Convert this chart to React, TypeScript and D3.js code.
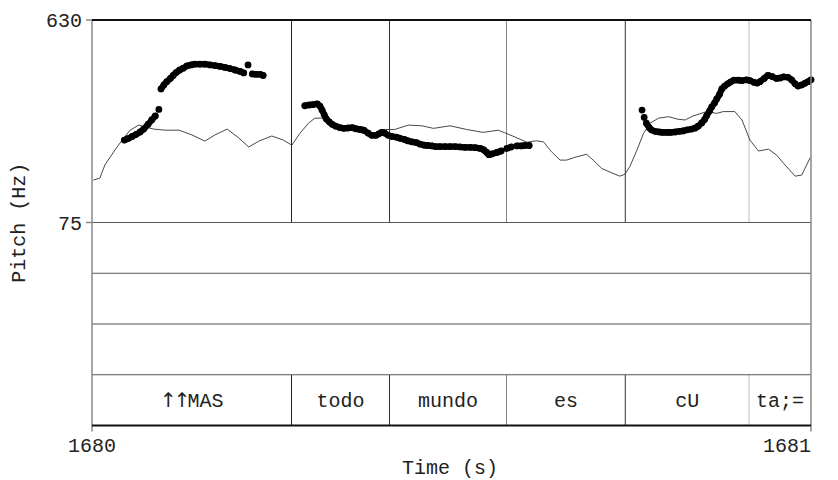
import React from "react";
import * as d3 from "d3";

// Time window (s) and pitch range (Hz)
const T_START = 1680;
const T_END = 1681;
const HZ_MIN = 75;
const HZ_MAX = 630;

// Thin reference contour: time offset from T_START (s), frequency (Hz)
const contourT = [
  0.002, 0.011, 0.018, 0.032, 0.042, 0.053, 0.065, 0.074, 0.086, 0.102, 0.121, 0.139, 0.157, 0.171,
  0.188, 0.204, 0.218, 0.232, 0.25, 0.266, 0.278, 0.289, 0.301, 0.31, 0.319, 0.327, 0.348, 0.359,
  0.377, 0.394, 0.403, 0.421, 0.44, 0.459, 0.475, 0.498, 0.521, 0.544, 0.565, 0.574, 0.591, 0.605,
  0.618, 0.628, 0.639, 0.651, 0.66, 0.674, 0.688, 0.697, 0.709, 0.723, 0.734, 0.741, 0.748, 0.758,
  0.767, 0.776, 0.788, 0.802, 0.815, 0.825, 0.836, 0.855, 0.869, 0.878, 0.894, 0.904, 0.915, 0.927,
  0.941, 0.952, 0.966, 0.978, 0.987, 0.999,
];
const contourHz = [
  191, 197, 233, 274, 301, 328, 342, 337, 331, 328, 328, 315, 298, 315,
  331, 307, 282, 298, 312, 301, 287, 319, 347, 361, 361, 351, 328, 328,
  320, 315, 330, 330, 342, 340, 333, 340, 330, 322, 328, 321, 307, 295,
  299, 296, 269, 246, 246, 255, 262, 246, 223, 211, 202, 207, 228, 274,
  319, 347, 361, 365, 358, 356, 367, 379, 374, 379, 379, 356, 301, 271,
  276, 260, 228, 202, 205, 253,
];

// Pitch track (speckle): time offset from T_START (s), frequency (Hz)
const pitchT = [
  // ↑↑MAS
  0.045, 0.05, 0.056, 0.061, 0.067, 0.072, 0.078, 0.083, 0.088, 0.093,
  0.096, 0.1, 0.104, 0.109, 0.113, 0.117, 0.122, 0.127, 0.132, 0.138, 0.143, 0.15, 0.157, 0.164,
  0.171, 0.178, 0.185, 0.192, 0.199, 0.206, 0.211, 0.217, 0.223, 0.228, 0.234, 0.238,
  // todo mundo
  0.296, 0.302, 0.307, 0.313, 0.317, 0.32, 0.323, 0.326, 0.33, 0.334, 0.339, 0.345, 0.35, 0.356,
  0.362, 0.367, 0.373, 0.378, 0.384, 0.389, 0.395, 0.399, 0.403, 0.407, 0.412, 0.417, 0.423, 0.428,
  0.434, 0.439, 0.445, 0.451, 0.456, 0.462, 0.467, 0.473, 0.478, 0.484, 0.491, 0.498, 0.505, 0.512,
  0.519, 0.526, 0.533, 0.54, 0.545, 0.549, 0.552, 0.556, 0.563, 0.569, 0.577, 0.583, 0.591, 0.597,
  0.602, 0.608,
  // cUta
  0.765, 0.768, 0.771, 0.775, 0.778, 0.783, 0.789, 0.794, 0.8, 0.805, 0.811, 0.817, 0.822, 0.828,
  0.834, 0.839, 0.843, 0.848, 0.852, 0.855, 0.859, 0.862, 0.866, 0.869, 0.873, 0.876, 0.88, 0.884,
  0.888, 0.893, 0.899, 0.904, 0.91, 0.915, 0.921, 0.925, 0.929, 0.935, 0.94, 0.946, 0.952, 0.957,
  0.962, 0.968, 0.973, 0.978, 0.982, 0.987, 0.992, 0.996, 1.0,
];
const pitchHz = [
  301, 305, 311, 316, 323, 331, 344, 356, 367, 385,
  441, 452, 461, 470, 478, 486, 493, 498, 504, 507, 509, 509, 509, 507,
  505, 503, 500, 497, 493, 489, 485, 507, 482, 481, 481, 478,
  395, 397, 398, 400, 394, 383, 370, 359, 351, 344, 339, 335, 333, 334,
  335, 332, 330, 328, 320, 314, 314, 318, 322, 320, 314, 311, 309, 306,
  303, 299, 296, 294, 290, 287, 286, 285, 283, 283, 283, 283, 283, 282,
  281, 281, 280, 278, 274, 267, 261, 263, 267, 271, 278, 282, 285, 285,
  286, 286,
  383, 363, 347, 335, 329, 325, 323, 322, 322, 322, 323, 325, 326, 329,
  331, 334, 339, 348, 357, 368, 381, 392, 403, 414, 427, 441, 449, 455,
  460, 465, 465, 464, 466, 464, 459, 457, 461, 470, 478, 475, 470, 471,
  474, 473, 466, 455, 449, 452, 457, 461, 466,
];

// Word tier: interval boundaries (offset from T_START, s) and labels
const wordBounds = [0.2775, 0.4138, 0.5765, 0.7417, 0.9138];
const wordLabels = ["↑↑MAS", "todo", "mundo", "es", "cU", "ta;="];

// Axis labels
const yTickValues = [HZ_MAX, HZ_MIN];
const xTickValues = [T_START, T_END];

// Rendering shades of the boundary lines
const boundaryShades = ["#222", "#333", "#888", "#333", "#bbb"];

const FONT = "'Courier New', 'Liberation Mono', monospace";
const ARROW_FONT = "'DejaVu Sans', sans-serif";

// Split a label into arrow glyphs and plain text so arrows use a font that has them
function labelParts(s: string) {
  const parts: { text: string; arrow: boolean }[] = [];
  for (const ch of s) {
    const arrow = ch === "↑" || ch === "↓";
    const last = parts[parts.length - 1];
    if (last && last.arrow === arrow) last.text += ch;
    else parts.push({ text: ch, arrow });
  }
  return parts;
}

export default function App() {
  const left = 92;
  const right = 811;
  const top = 20;
  const pitchBottom = 222.5;
  const bottom = 425.5;
  const tierCount = 4;
  const tierH = (bottom - pitchBottom) / tierCount;

  const x = d3.scaleLinear().domain([T_START, T_END]).range([left, right]);
  const y = d3.scaleLinear().domain([HZ_MIN, HZ_MAX]).range([pitchBottom, top]);

  const contourPath = d3
    .line<number>()
    .x((_, i) => x(T_START + contourT[i]))
    .y((d) => y(d))(contourHz) as string;

  // contiguous runs of the pitch track (frames close together in time and frequency)
  const runs: number[][] = [];
  pitchT.forEach((t, i) => {
    const prev = i - 1;
    const joined =
      prev >= 0 && t - pitchT[prev] < 0.0075 && Math.abs(pitchHz[i] - pitchHz[prev]) < 16;
    if (joined) runs[runs.length - 1].push(i);
    else runs.push([i]);
  });
  const runLine = d3
    .line<number>()
    .x((i) => x(T_START + pitchT[i]))
    .y((i) => y(pitchHz[i]))
    .curve(d3.curveMonotoneX);

  const lastTierTop = pitchBottom + tierH * (tierCount - 1);
  const edges = [0, ...wordBounds, 1];

  return (
    <svg width={830} height={472} style={{ display: "block", background: "#fff" }}>
      <rect width={830} height={472} fill="#fff" />
      <g transform="translate(-8,-8)">
        {/* boundaries in the pitch panel */}
        {wordBounds.map((b, i) => (
          <line
            key={"pb" + i}
            x1={x(T_START + b)}
            x2={x(T_START + b)}
            y1={top}
            y2={pitchBottom}
            stroke={boundaryShades[i]}
            strokeWidth={1}
          />
        ))}
        {/* boundaries in the word tier */}
        {wordBounds.map((b, i) => (
          <line
            key={"tb" + i}
            x1={x(T_START + b)}
            x2={x(T_START + b)}
            y1={lastTierTop}
            y2={bottom}
            stroke={boundaryShades[i]}
            strokeWidth={1}
          />
        ))}
        {/* tier separators */}
        {d3.range(tierCount).map((k) => (
          <line
            key={"ts" + k}
            x1={left}
            x2={right}
            y1={pitchBottom + tierH * k}
            y2={pitchBottom + tierH * k}
            stroke="#555"
            strokeWidth={1}
          />
        ))}
        {/* reference contour */}
        <path d={contourPath} fill="none" stroke="#333" strokeWidth={0.9} />
        {/* pitch speckle */}
        {runs
          .filter((r) => r.length > 1)
          .map((r, k) => (
            <path
              key={"run" + k}
              d={runLine(r) as string}
              fill="none"
              stroke="#000"
              strokeWidth={6.2}
              strokeLinecap="round"
              strokeLinejoin="round"
            />
          ))}
        {pitchHz.map((hz, i) => (
          <circle key={"p" + i} cx={x(T_START + pitchT[i])} cy={y(hz)} r={3.4} fill="#000" />
        ))}
        {/* frame */}
        <line x1={left} x2={left} y1={top} y2={bottom + 6} stroke="#888" strokeWidth={1.5} />
        <line x1={right} x2={right} y1={top} y2={bottom + 6} stroke="#888" strokeWidth={1.5} />
        <line x1={left} x2={right} y1={top} y2={top} stroke="#111" strokeWidth={2} />
        <line x1={left} x2={right} y1={bottom} y2={bottom} stroke="#111" strokeWidth={2} />
        {/* y ticks */}
        {yTickValues.map((v) => (
          <g key={"yt" + v}>
            <line x1={left - 6} x2={left} y1={y(v)} y2={y(v)} stroke="#888" strokeWidth={1.5} />
            <text
              x={left - 10}
              y={y(v)}
              dy="0.35em"
              textAnchor="end"
              fontFamily={FONT}
              fontSize={20}
              fill="#222"
            >
              {v}
            </text>
          </g>
        ))}
        {/* x labels */}
        {xTickValues.map((v, i) => (
          <text
            key={"xt" + v}
            x={x(v)}
            y={452}
            textAnchor={i === 0 ? "middle" : "end"}
            fontFamily={FONT}
            fontSize={20}
            fill="#222"
          >
            {v}
          </text>
        ))}
        <text x={450} y={474} textAnchor="middle" fontFamily={FONT} fontSize={20} fill="#222">
          Time (s)
        </text>
        <text
          transform={`translate(25,${(top + bottom) / 2}) rotate(-90)`}
          textAnchor="middle"
          fontFamily={FONT}
          fontSize={20}
          fill="#222"
        >
          Pitch (Hz)
        </text>
        {/* word labels */}
        {wordLabels.map((w, i) => (
          <text
            key={"w" + i}
            x={(x(T_START + edges[i]) + x(T_START + edges[i + 1])) / 2}
            y={(lastTierTop + bottom) / 2}
            dy="0.35em"
            textAnchor="middle"
            fontFamily={FONT}
            fontSize={20}
            fill="#222"
          >
            {labelParts(w).map((p, k) => (
              <tspan
                key={k}
                fontFamily={p.arrow ? ARROW_FONT : FONT}
                fill="#222"
                letterSpacing={p.arrow ? -3 : 0}
              >
                {p.text}
              </tspan>
            ))}
          </text>
        ))}
      </g>
    </svg>
  );
}
